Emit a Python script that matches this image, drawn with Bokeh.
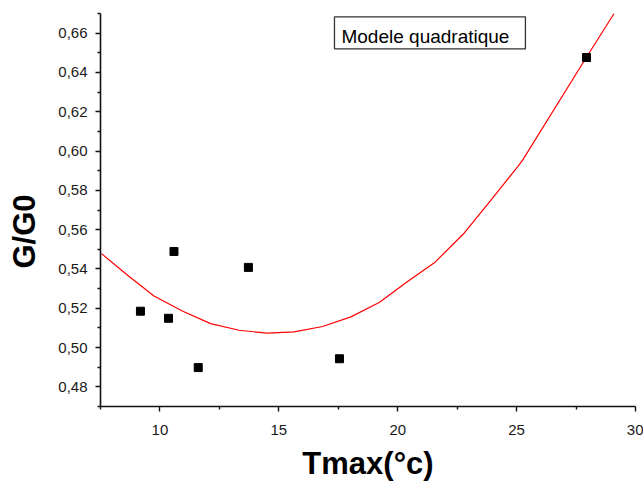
from bokeh.plotting import figure
from bokeh.models import FixedTicker, CustomJSTickFormatter, Label, Range1d
from bokeh.embed import file_html
from bokeh.resources import INLINE

# Measured points
tmax = [9.18, 10.36, 10.59, 11.61, 13.72, 17.55, 27.94]
g_g0 = [0.5185, 0.5149, 0.5489, 0.4898, 0.5408, 0.4943, 0.6476]

# Quadratic model curve
fit_x = [7.54, 8.69, 9.75, 10.94, 12.13, 13.33, 14.52, 15.64, 16.84, 18.03,
         19.22, 20.49, 21.54, 22.80, 23.93, 25.05, 25.26, 27.93, 29.10]
fit_y = [0.5478, 0.5363, 0.5262, 0.5186, 0.5122, 0.5088, 0.5073, 0.5080, 0.5107, 0.5156,
         0.5229, 0.5342, 0.5431, 0.5583, 0.5752, 0.5921, 0.5955, 0.6476, 0.6700]

x_major = [10, 15, 20, 25, 30]
x_minor = [7.5, 12.5, 17.5, 22.5, 27.5]
y_major = [0.48, 0.50, 0.52, 0.54, 0.56, 0.58, 0.60, 0.62, 0.64, 0.66]
y_minor = [0.47, 0.49, 0.51, 0.53, 0.55, 0.57, 0.59, 0.61, 0.63, 0.65, 0.67]

legend_text = "Modele quadratique"
x_title = "Tmax(°c)"
y_title = "G/G0"

p = figure(width=643, height=483, output_backend="svg", toolbar_location=None,
           x_range=Range1d(7.5, 30), y_range=Range1d(0.47, 0.67),
           min_border_left=100, min_border_right=8, min_border_top=13, min_border_bottom=75)
p.outline_line_color = None
p.xgrid.visible = False
p.ygrid.visible = False
p.background_fill_color = "white"
p.border_fill_color = "white"

p.line(fit_x, fit_y, line_color="#ff0000", line_width=1.2)
p.scatter(tmax, g_g0, marker="square", size=8, fill_color="black", line_color="black")

for ax in (p.xaxis[0], p.yaxis[0]):
    ax.axis_line_color = "#111111"
    ax.axis_line_width = 1.6
    ax.major_tick_line_color = "#111111"
    ax.major_tick_line_width = 1.4
    ax.minor_tick_line_color = "#111111"
    ax.minor_tick_line_width = 1.4
    ax.major_tick_in = 0
    ax.major_tick_out = 5
    ax.minor_tick_in = 0
    ax.minor_tick_out = 3
    ax.major_label_text_font = "Liberation Sans"
    ax.major_label_text_font_size = "15px"
    ax.major_label_text_color = "#1a1a1a"
    ax.axis_label_text_font = "Liberation Sans"
    ax.axis_label_text_font_size = "31px"
    ax.axis_label_text_font_style = "bold"
    ax.axis_label_text_color = "black"

p.xaxis.ticker = FixedTicker(ticks=x_major, minor_ticks=x_minor)
p.yaxis.ticker = FixedTicker(ticks=y_major, minor_ticks=y_minor)
p.yaxis.formatter = CustomJSTickFormatter(code="return tick.toFixed(2).replace('.', ',');")
p.xaxis.major_label_standoff = 13
p.yaxis.major_label_standoff = 8
p.xaxis.axis_label = x_title
p.xaxis.axis_label_standoff = 8
# trailing no-break spaces push the centred title a little below the frame centre
p.yaxis.axis_label = y_title + "\u00a0" * 5
p.yaxis.axis_label_standoff = 13

lab = Label(x=17.34, y=0.6683, text=legend_text, text_align="left", text_baseline="top",
            text_font="Liberation Sans", text_font_size="19px", text_color="black",
            border_line_color="#333333", border_line_width=1.3,
            background_fill_color="white", padding=(7, 16, 9, 2))
p.add_layout(lab)

open("out.html", "w").write(file_html(p, INLINE))
